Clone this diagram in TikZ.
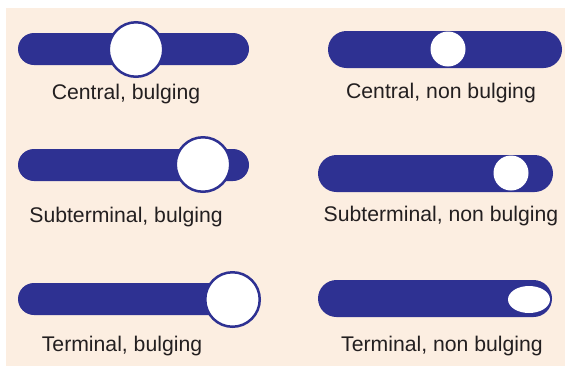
\documentclass[tikz,border=0pt]{standalone}
\usepackage{fontspec}
\setmainfont{Liberation Sans}
\usetikzlibrary{shapes.misc,shapes.geometric}
\definecolor{peach}{HTML}{FCEEE1}
\definecolor{sporeblue}{HTML}{2E3192}
\definecolor{txt}{HTML}{231F20}
\tikzset{
  bar/.style={rounded rectangle, fill=sporeblue, draw=none, inner sep=0pt},
  bigspore/.style={circle, fill=white, draw=sporeblue, line width=2.5pt, minimum size=54.5pt, inner sep=0pt},
  smallspore/.style={circle, fill=white, draw=none, minimum size=35pt, inner sep=0pt},
  lbl/.style={anchor=base, text=txt, inner sep=0pt, font=\fontsize{21.2}{25}\selectfont}
}
\begin{document}
\begin{tikzpicture}[x=1pt,y=1pt]
\useasboundingbox (0,0) rectangle (565,-368);
\fill[peach] (6,-8) rectangle (565,-366);
% left column
\node[bar, minimum width=231pt, minimum height=32pt] (b1) at (133.5,-49) {};
\node[bigspore] (s1) at (136,-49.5) {};
\node[lbl] (t1) at (126,-99) {Central, bulging};
\node[bar, minimum width=231pt, minimum height=32pt] (b2) at (133.5,-165) {};
\node[bigspore] (s2) at (203,-164.5) {};
\node[lbl] (t2) at (126,-222) {Subterminal, bulging};
\node[bar, minimum width=231pt, minimum height=32pt] (b3) at (133.5,-299) {};
\node[bigspore] (s3) at (232.5,-299.5) {};
\node[lbl] (t3) at (122,-351) {Terminal, bulging};
% right column
\node[bar, minimum width=234pt, minimum height=37pt] (b4) at (445,-49.5) {};
\node[smallspore] (s4) at (448,-49) {};
\node[lbl] (t4) at (441,-98) {Central, non bulging};
\node[bar, minimum width=235pt, minimum height=37pt] (b5) at (435.5,-173.5) {};
\node[smallspore] (s5) at (511,-173) {};
\node[lbl] (t5) at (441,-221) {Subterminal, non bulging};
\node[bar, minimum width=234pt, minimum height=37pt] (b6) at (435,-298.5) {};
\node[ellipse, fill=white, minimum width=42pt, minimum height=27pt, inner sep=0pt] (s6) at (529,-299.5) {};
\node[lbl] (t6) at (442,-351) {Terminal, non bulging};
\end{tikzpicture}
\end{document}
